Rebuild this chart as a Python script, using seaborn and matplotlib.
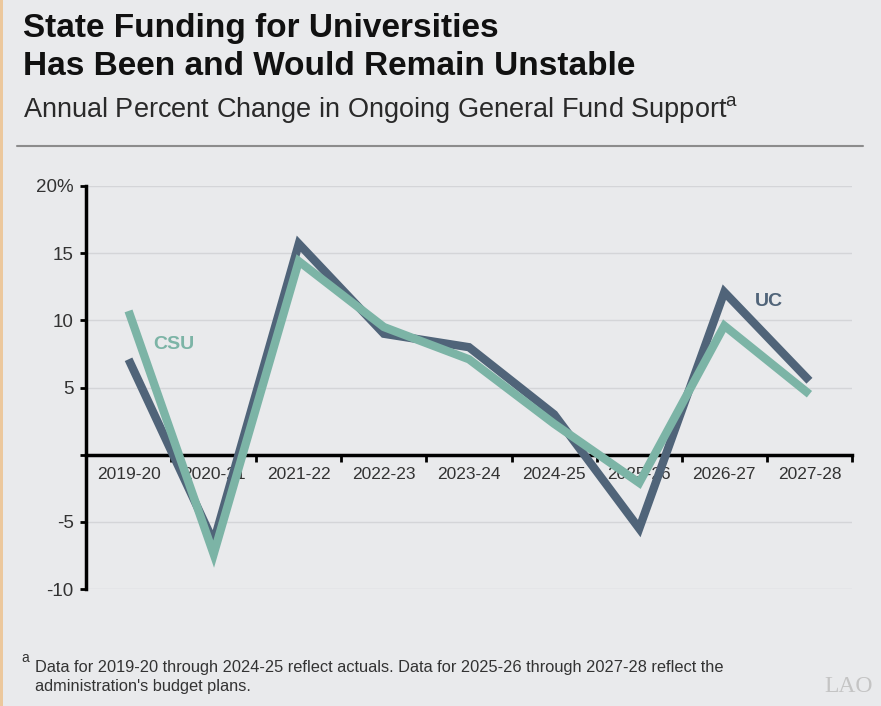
import matplotlib
matplotlib.use("Agg")
import matplotlib.pyplot as plt
from matplotlib.lines import Line2D
from matplotlib.patches import Rectangle
import numpy as np
import pandas as pd
import seaborn as sns

# chart values
years = ["2019-20", "2020-21", "2021-22", "2022-23", "2023-24",
         "2024-25", "2025-26", "2026-27", "2027-28"]
uc = [7.1, -6.5, 15.7, 9.0, 8.0, 3.0, -5.5, 12.1, 5.5]
csu = [10.7, -7.4, 14.4, 9.5, 7.1, 2.3, -2.1, 9.6, 4.5]
y_ticks = [-10, -5, 0, 5, 10, 15, 20]
y_labels = ["-10", "-5", "", "5", "10", "15", "20%"]

bg = "#e9eaec"
uc_col = "#506479"
csu_col = "#7cb4a6"

sns.set_style("white", {"axes.facecolor": bg, "figure.facecolor": bg})
plt.rcParams["font.family"] = ["Liberation Sans", "DejaVu Sans"]
plt.rcParams["mathtext.fontset"] = "custom"
plt.rcParams["mathtext.rm"] = "Liberation Sans"

df = pd.DataFrame({
    "year": years * 2,
    "value": uc + csu,
    "school": ["UC"] * len(years) + ["CSU"] * len(years),
})

fig = plt.figure(figsize=(8.81, 7.06), dpi=100)
ax = fig.add_axes([86 / 881, 1 - 589 / 706, (852 - 86) / 881, (589 - 186) / 706])

sns.lineplot(data=df, x="year", y="value", hue="school", hue_order=["UC", "CSU"],
             palette={"UC": uc_col, "CSU": csu_col}, linewidth=6, sort=False,
             legend=False, ax=ax, solid_joinstyle="miter", solid_capstyle="butt")

ax.set_xlim(-0.5, len(years) - 0.5)
ax.set_ylim(-10, 20)
ax.set_xlabel("")
ax.set_ylabel("")

# grid
for t in y_ticks:
    ax.axhline(t, color="#d4d5d8", lw=1, zorder=0)

# spines
for s in ["top", "right"]:
    ax.spines[s].set_visible(False)
ax.spines["left"].set_linewidth(2.5)
ax.spines["left"].set_color("black")
ax.spines["bottom"].set_position(("data", 0))
ax.spines["bottom"].set_linewidth(2.5)
ax.spines["bottom"].set_color("black")
ax.spines["bottom"].set_zorder(1)

ax.set_yticks(y_ticks)
ax.set_yticklabels(y_labels)
ax.tick_params(axis="y", direction="out", length=4, width=2, color="black",
               labelsize=13.5, labelcolor="#333333", pad=5, left=True)

# boundaries as major ticks, names on minor ticks
ax.set_xticks(np.arange(0.5, len(years), 1.0))
ax.set_xticklabels([])
ax.set_xticks(range(len(years)), minor=True)
ax.set_xticklabels(years, minor=True)
ax.tick_params(axis="x", which="major", direction="out", length=5, width=2,
               color="black", bottom=True)
ax.tick_params(axis="x", which="minor", length=0, labelsize=12.5,
               labelcolor="#333333", pad=9)

# series labels
ax.text(0.29, 8.2, "CSU", color=csu_col, fontsize=14, fontweight="bold",
        ha="left", va="center")
ax.text(7.36, 11.4, "UC", color=uc_col, fontsize=14, fontweight="bold",
        ha="left", va="center")

# titles
fig.text(23 / 881, 1 - 37 / 706, "State Funding for Universities",
         fontsize=24, fontweight="bold", color="#111111", va="baseline")
fig.text(23 / 881, 1 - 75 / 706, "Has Been and Would Remain Unstable",
         fontsize=24, fontweight="bold", color="#111111", va="baseline")
fig.text(23 / 881, 1 - 117 / 706,
         r"Annual Percent Change in Ongoing General Fund Support$^{\mathrm{a}}$",
         fontsize=19.5, color="#2a2a2a", va="baseline")
fig.add_artist(Line2D([17 / 881, 863 / 881], [1 - 146 / 706, 1 - 146 / 706],
                      color="#8c8c8c", lw=1.5))

# footnote
fig.text(21 / 881, 1 - 662 / 706, "a", fontsize=10, color="#333333", va="baseline")
fig.text(35 / 881, 1 - 672 / 706,
         "Data for 2019-20 through 2024-25 reflect actuals. Data for 2025-26 through 2027-28 reflect the",
         fontsize=11.8, color="#333333", va="baseline")
fig.text(35 / 881, 1 - 691 / 706, "administration's budget plans.",
         fontsize=11.8, color="#333333", va="baseline")
fig.text(873 / 881, 1 - 692 / 706, "LAO", family="Liberation Serif", fontsize=17,
         color="#c4c4c4", ha="right", va="baseline")

# left accent stripe
fig.add_artist(Rectangle((0, 0), 3 / 881, 1, transform=fig.transFigure,
                         color="#ecc89d", lw=0))

fig.savefig("out.png", dpi=100, facecolor=bg)
